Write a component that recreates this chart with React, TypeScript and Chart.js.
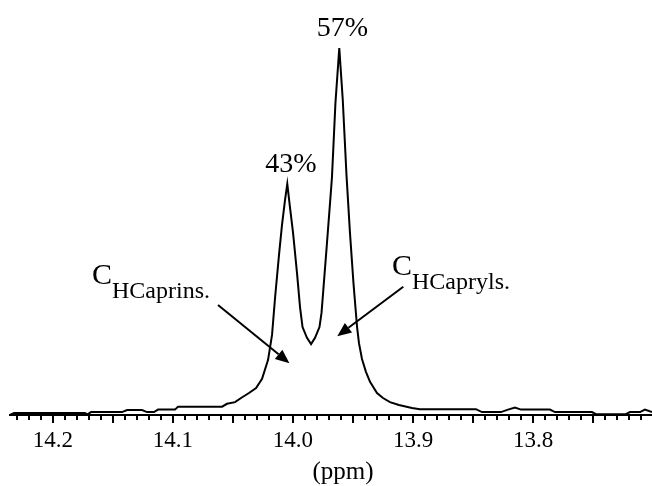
import React, { useEffect, useRef } from "react";
import { Chart, registerables } from "chart.js";

Chart.register(...registerables);

// Spectrum trace: chemical shift (ppm) and intensity (arbitrary units, 0-100)
const ppm = [
  14.2356, 14.2322, 14.1731, 14.1714, 14.1681, 14.1423, 14.1381, 14.1257, 14.1215, 14.1157,
  14.1123, 14.0982, 14.0957, 14.059, 14.0549, 14.0482, 14.0432, 14.0366, 14.0307, 14.0257,
  14.0207, 14.0174, 14.0149, 14.0116, 14.0091, 14.0066, 14.0047, 14.0024, 13.9999, 13.9966,
  13.9941, 13.992, 13.9883, 13.9849, 13.9816, 13.9779, 13.9762, 13.9747, 13.9719, 13.9691,
  13.9675, 13.9646, 13.9614, 13.9585, 13.9554, 13.9525, 13.9496, 13.9466, 13.945, 13.9425,
  13.9392, 13.9358, 13.93, 13.925, 13.9192, 13.9117, 13.9009, 13.8942, 13.8476, 13.8426,
  13.8268, 13.8209, 13.8151, 13.8101, 13.786, 13.7818, 13.751, 13.7477, 13.7227, 13.7194,
  13.711, 13.7069, 13.701,
];
const intensity = [
  0, 0.5, 0.5, 0.1, 0.7, 0.7, 1.2, 1.2, 0.7, 0.7,
  1.3, 1.3, 2.0, 2.0, 2.7, 3.1, 4.1, 5.3, 6.5, 8.7,
  13.3, 19.3, 28.2, 38.6, 45.8, 51.8, 55.7, 49.9, 43.9, 34.2,
  26.0, 21.2, 18.6, 17.1, 18.6, 21.2, 24.6, 30.1, 40.5, 51.1,
  57.3, 75.2, 88.4, 75.9, 57.8, 43.9, 31.8, 21.2, 17.3, 13.5,
  10.4, 8.0, 5.3, 4.1, 3.1, 2.4, 1.7, 1.4, 1.4, 0.7,
  0.7, 1.3, 1.8, 1.3, 1.3, 0.7, 0.7, 0.2, 0.2, 0.7,
  0.7, 1.3, 0.7,
];

const X_MIN = 13.701;
const X_MAX = 14.2356;
const majorTicks = [14.2, 14.1, 14.0, 13.9, 13.8];
const majorTickLabels = ["14.2", "14.1", "14.0", "13.9", "13.8"];
const axisTitle = "(ppm)";
const axisTitlePpm = 13.9583;

// Peak percentage labels
const percentLabels = ["43%", "57%"];
const percentPpm = [14.0016, 13.9587];
const percentIntensity = [58.6, 91.3];

// Group annotations C_H + name
const groupMain = ["C", "C"];
const groupSub = ["HCaprins.", "HCapryls."];
const groupPpm = [14.1673, 13.9175];
const groupIntensity = [31.6, 33.7];

// Arrows
const arrowFromPpm = [14.0624, 13.9081];
const arrowFromInt = [26.5, 30.9];
const arrowToPpm = [14.0029, 13.9631];
const arrowToInt = [12.5, 19.0];

const FONT = "'Liberation Serif', 'Times New Roman', Times, serif";

const annotationPlugin = {
  id: "nmrAnnotations",
  afterDraw(chart: any) {
    const ctx = chart.ctx as CanvasRenderingContext2D;
    const xs = chart.scales.x;
    const ys = chart.scales.y;
    const y0 = chart.chartArea.bottom;
    ctx.save();
    // tick marks
    ctx.strokeStyle = "#000";
    ctx.lineWidth = 2;
    xs.ticks.forEach((t: any) => {
      const px = Math.round(xs.getPixelForValue(t.value));
      const k = Math.round(t.value * 100);
      const len = k % 5 === 0 ? 8 : 5;
      ctx.beginPath();
      ctx.moveTo(px, y0);
      ctx.lineTo(px, y0 + len);
      ctx.stroke();
    });

    ctx.fillStyle = "#000";
    // axis title
    ctx.font = `25px ${FONT}`;
    ctx.textAlign = "center";
    ctx.textBaseline = "alphabetic";
    ctx.fillText(axisTitle, xs.getPixelForValue(axisTitlePpm), xs.bottom - 7);

    // percentages
    ctx.font = `28px ${FONT}`;
    percentLabels.forEach((lab, i) => {
      ctx.fillText(lab, xs.getPixelForValue(percentPpm[i]), ys.getPixelForValue(percentIntensity[i]));
    });

    // group labels
    ctx.textAlign = "left";
    groupMain.forEach((m, i) => {
      const x = xs.getPixelForValue(groupPpm[i]);
      const y = ys.getPixelForValue(groupIntensity[i]);
      ctx.font = `30px ${FONT}`;
      ctx.fillText(m, x, y);
      const w = ctx.measureText(m).width;
      ctx.font = `24px ${FONT}`;
      ctx.fillText(groupSub[i], x + w, y + 14);
    });

    // arrows
    arrowFromPpm.forEach((_, i) => {
      const x1 = xs.getPixelForValue(arrowFromPpm[i]);
      const y1 = ys.getPixelForValue(arrowFromInt[i]);
      const x2 = xs.getPixelForValue(arrowToPpm[i]);
      const y2 = ys.getPixelForValue(arrowToInt[i]);
      const ang = Math.atan2(y2 - y1, x2 - x1);
      const hl = 14;
      const hw = 6;
      const bx = x2 - hl * Math.cos(ang);
      const by = y2 - hl * Math.sin(ang);
      ctx.lineWidth = 2;
      ctx.beginPath();
      ctx.moveTo(x1, y1);
      ctx.lineTo(bx, by);
      ctx.stroke();
      ctx.beginPath();
      ctx.moveTo(x2, y2);
      ctx.lineTo(bx + hw * Math.sin(ang), by - hw * Math.cos(ang));
      ctx.lineTo(bx - hw * Math.sin(ang), by + hw * Math.cos(ang));
      ctx.closePath();
      ctx.fill();
    });
    ctx.restore();
  },
};

export default function App() {
  const ref = useRef<HTMLCanvasElement | null>(null);
  useEffect(() => {
    if (!ref.current) return;
    const points = ppm.map((p, i) => ({ x: p, y: intensity[i] }));
    const chart = new Chart(ref.current, {
      type: "line",
      data: {
        datasets: [
          {
            data: points,
            borderColor: "#000",
            borderWidth: 2,
            pointRadius: 0,
            tension: 0,
            fill: false,
            clip: false as any,
          },
        ],
      },
      options: {
        animation: false,
        responsive: false,
        devicePixelRatio: 1,
        layout: { padding: { left: 10, right: 0, top: 0, bottom: 0 } },
        plugins: { legend: { display: false }, tooltip: { enabled: false } },
        scales: {
          x: {
            type: "linear",
            reverse: true,
            min: X_MIN,
            max: X_MAX,
            grid: { display: false, drawTicks: false, tickLength: 0 },
            border: { display: true, color: "#000", width: 2 },
            afterBuildTicks: (scale: any) => {
              const t: any[] = [];
              for (let i = 1371; i <= 1423; i++) t.push({ value: i / 100 });
              scale.ticks = t;
            },
            afterFit: (scale: any) => {
              scale.height = 71;
            },
            ticks: {
              autoSkip: false,
              maxRotation: 0,
              minRotation: 0,
              padding: 12,
              color: "#000",
              font: { family: FONT, size: 23 },
              callback: (value: any) => {
                const v = Number(value);
                const idx = majorTicks.findIndex((m) => Math.abs(m - v) < 1e-6);
                return idx >= 0 ? majorTickLabels[idx] : "";
              },
            },
            title: { display: false },
          },
          y: { display: false, min: 0, max: 100 },
        },
      },
      plugins: [annotationPlugin],
    });
    return () => chart.destroy();
  }, []);
  return (
    <div style={{ position: "fixed", left: 0, top: 0, width: 652, height: 486, background: "#fff" }}>
      <canvas ref={ref} width={652} height={486} />
    </div>
  );
}
